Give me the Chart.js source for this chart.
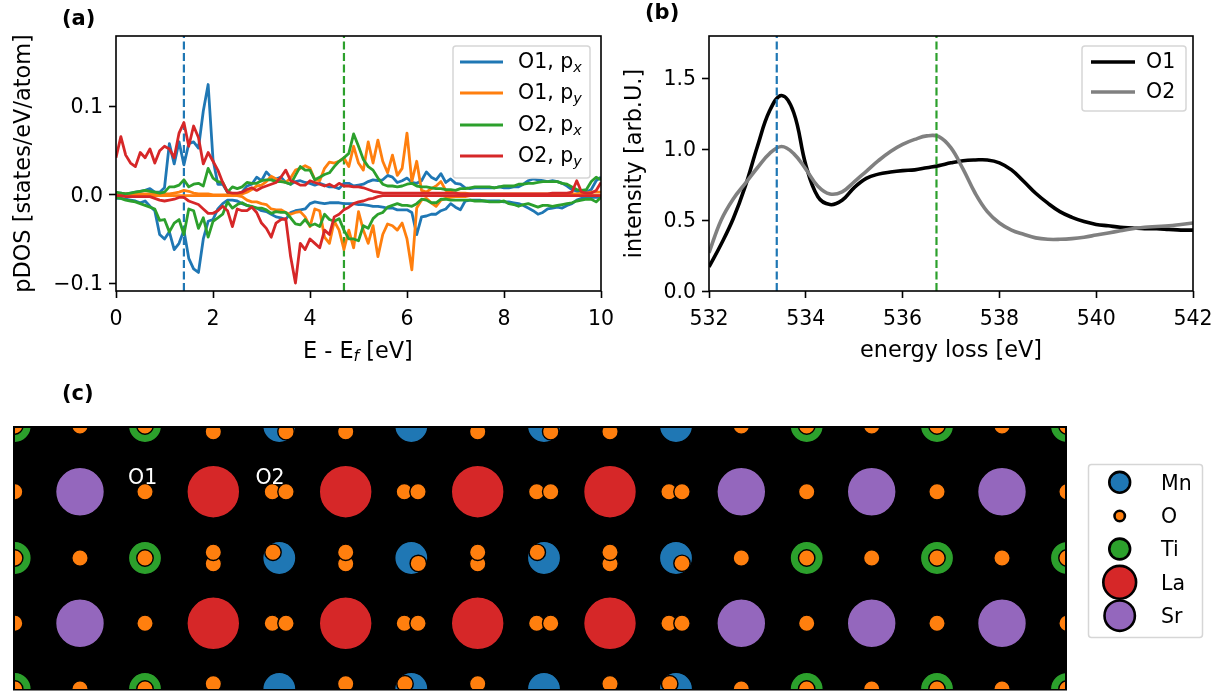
<!DOCTYPE html>
<html lang="en">
<head>
  <meta charset="UTF-8">
  <title>pDOS and EELS of O sites</title>
  <script src="https://cdn.jsdelivr.net/npm/chart.js"></script>
  <style>
    body { background: #fff; margin: 0; }
    canvas { position: absolute; }
    #pdosChart { left: 0; top: 0; }
    #eelsChart { left: 620px; top: 0; }
    #structChart { left: 0; top: 380px; }
  </style>
</head>
<body>
  <canvas id="pdosChart" width="640" height="380"></canvas>
  <canvas id="eelsChart" width="605" height="380"></canvas>
  <canvas id="structChart" width="1225" height="311"></canvas>

  <script>
    // (a) pDOS, energies in eV, series in 10^-3 states/eV/atom
    const energy = [
      0,.1,.2,.3,.4,.5,.6,.7,.8,.9, 1,1.1,1.2,1.3,1.4,1.5,1.6,1.7,1.8,1.9,
      2,2.1,2.2,2.3,2.4,2.5,2.6,2.7,2.8,2.9, 3,3.1,3.2,3.3,3.4,3.5,3.6,3.7,3.8,3.9,
      4,4.1,4.2,4.3,4.4,4.5,4.6,4.7,4.8,4.9, 5,5.1,5.2,5.3,5.4,5.5,5.6,5.7,5.8,5.9,
      6,6.1,6.2,6.3,6.4,6.5,6.6,6.7,6.8,6.9, 7,7.1,7.2,7.3,7.4,7.5,7.6,7.7,7.8,7.9,
      8,8.1,8.2,8.3,8.4,8.5,8.6,8.7,8.8,8.9, 9,9.1,9.2,9.3,9.4,9.5,9.6,9.7,9.8,9.9, 10];
    const o1PxUp = [
      2,2,1,2,3,4,5,7,3,3, 8,58,35,60,34,58,60,53,95,125,
      40,12,12,3,1,1,3,10,12,20, 16,26,20,18,20,14,12,15,16,14,
      13,11,13,11,9,9,7,13,13,10, 11,12,15,17,16,17,22,20,14,16,
      19,14,13,16,26,20,17,24,14,18, 13,12,8,7,8,8,8,8,8,9,
      8,8,9,9,12,16,18,17,16,15, 16,15,13,10,6,4,3,3,6,16, 20];
    const o1PyUp = [
      1,1,1,1,1,1,1,1,1,1, 1,1,2,3,5,4,2,1,1,1,
      0,0,0,0,0,0,1,3,6,10, 11,15,21,18,16,14,19,28,30,33,
      30,17,16,30,37,36,38,42,32,55, 36,28,60,36,62,38,25,45,22,30,
      70,15,38,5,3,7,10,15,5,3, 2,2,2,1,1,1,1,1,1,1,
      1,1,1,1,1,1,1,1,1,1, 1,1,1,1,1,1,2,2,3,3, 3];
    const o2PxUp = [
      3,2,1,2,3,4,5,4,3,2, 3,9,9,11,17,9,12,13,10,30,
      19,15,14,3,9,7,9,14,13,13, 16,17,17,15,15,14,12,22,32,28,
      28,17,20,23,25,32,38,42,47,69, 55,40,32,28,19,12,10,10,9,10,
      12,13,10,9,9,8,7,7,6,6, 5,7,7,8,9,9,9,9,8,9,
      10,10,10,12,12,13,13,14,15,15, 15,15,13,12,9,6,5,6,15,20, 17];
    const o2PyUp = [
      42,66,45,36,32,48,42,52,36,50, 55,52,42,70,82,55,78,65,35,48,
      38,28,14,3,2,2,3,6,8,5, 8,10,12,14,20,28,16,14,11,11,
      16,14,12,10,12,9,13,10,10,9, 9,8,6,4,3,2,2,2,2,2,
      2,2,2,2,2,2,2,2,2,2, 2,1,1,1,1,1,1,1,1,1,
      1,1,1,1,1,1,1,1,1,1, 2,2,2,2,3,16,3,2,2,5, 14];
    const o1PxDown = [
      -4,-4,-5,-6,-7,-9,-7,-13,-18,-45, -50,-42,-62,-55,-40,-72,-84,-88,-50,-30,
      -28,-16,-10,-6,-6,-7,-10,-12,-14,-15, -18,-19,-22,-25,-26,-28,-20,-18,-17,-16,
      -10,-8,-9,-10,-9,-9,-9,-10,-10,-10, -11,-11,-12,-13,-13,-14,-15,-15,-17,-17,
      -17,-20,-45,-25,-24,-22,-22,-18,-16,-10, -14,-17,-7,-6,-6,-6,-7,-7,-7,-7,
      -8,-8,-9,-10,-12,-15,-18,-22,-20,-16, -15,-14,-15,-12,-10,-6,-4,-3,-3,-3, -3];
    const o1PyDown = [
      -1,-1,-1,-1,-1,-1,-1,-1,-1,-1, -1,-1,-1,-1,-1,-1,-1,-1,-1,-1,
      -1,-1,-1,-1,-1,-1,-2,-6,-8,-8, -10,-11,-16,-17,-17,-20,-22,-20,-19,-25,
      -36,-16,-18,-48,-55,-30,-40,-62,-40,-60, -19,-40,-55,-35,-70,-45,-33,-35,-40,-32,
      -50,-85,-15,-6,-4,-9,-13,-6,-4,-3, -2,-2,-2,-1,-1,-1,-1,-1,-1,-1,
      -1,-1,-1,-1,-1,-1,-1,-1,-1,-1, -1,-1,-1,-1,-1,-1,-1,-1,-1,-1, -1];
    const o2PxDown = [
      -3,-4,-6,-7,-8,-10,-12,-14,-16,-29, -28,-42,-32,-28,-45,-16,-18,-38,-26,-48,
      -30,-26,-22,-8,-15,-11,-9,-12,-13,-15, -15,-17,-21,-19,-20,-20,-26,-33,-34,-28,
      -35,-33,-36,-22,-28,-30,-27,-40,-50,-50, -52,-35,-38,-27,-22,-20,-14,-12,-10,-12,
      -12,-13,-10,-5,-6,-9,-9,-5,-5,-6, -6,-6,-6,-6,-7,-7,-7,-8,-8,-8,
      -7,-10,-11,-13,-11,-10,-12,-14,-12,-12, -13,-12,-11,-10,-9,-7,-6,-5,-5,-8, -3];
    const o2PyDown = [
      -1,-1,-2,-2,-2,-2,-2,-2,-4,-6, -7,-6,-5,-3,-3,-7,-9,-11,-16,-21,
      -21,-18,-13,-18,-36,-16,-18,-18,-14,-20, -32,-38,-48,-32,-28,-27,-70,-100,-55,-62,
      -50,-55,-60,-40,-45,-25,-22,-17,-14,-10, -8,-7,-5,-4,-2,-1,-1,-1,-1,-1,
      -1,-1,-1,-1,-1,-1,-1,-1,-1,-1, -1,-1,-1,-1,-1,-1,-1,-1,-1,-1,
      -1,-1,-1,-1,-1,-1,-1,-1,-1,-1, -1,-1,-1,-1,-1,-1,-1,-1,-1,-1, -1];
    const pdosMarkers = [1.4, 4.7];
    const pdosXTicks = [0, 2, 4, 6, 8, 10];
    const pdosYTicks = [-0.1, 0, 0.1];
    const pdosYLabels = ['\u22120.1', '0.0', '0.1'];

    // (b) EELS
    const loss = [
      532,532.25,532.5,532.75,533,533.25,533.5,533.75,534,534.25,534.5,534.75,
      535,535.25,535.5,535.75,536,536.25,536.5,536.75,537,537.25,537.5,537.75,
      538,538.25,538.5,538.75,539,539.25,539.5,539.75,540,540.25,540.5,540.75,
      541,541.25,541.5,541.75,542];
    const eelsO1 = [
      .17,.33,.51,.74,1.02,1.27,1.38,1.26,.89,.665,.61,.64,
      .73,.795,.825,.84,.85,.855,.87,.885,.905,.92,.925,.925,
      .905,.855,.775,.69,.62,.56,.52,.49,.47,.46,.45,.445,
      .44,.44,.435,.43,.43];
    const eelsO2 = [
      .27,.5,.65,.76,.87,.97,1.02,.97,.86,.74,.685,.7,
      .77,.845,.92,.985,1.035,1.07,1.095,1.09,1.01,.86,.69,.56,
      .48,.43,.4,.375,.365,.365,.37,.38,.395,.41,.425,.44,
      .45,.455,.46,.47,.48];
    const eelsMarkers = [533.4, 536.7];
    const eelsXTicks = [532, 534, 536, 538, 540, 542];
    const eelsYTicks = [0, 0.5, 1, 1.5];
    const eelsYLabels = ['0.0', '0.5', '1.0', '1.5'];

    // (c) structure projection, atom columns in plot units
    const bRows = [263, 131, 0];
    const aRows = [197.3, 65.7];
    const tiColumns = [-0.3, 130, 791.7, 922, 1052];
    const mnColumns = [264.3, 396.3, 529, 661];
    const srColumns = [65, 726.3, 856.7, 987];
    const laColumns = [198.3, 330.7, 462.7, 595];
    const oSites = [
      // top row
      [-0.3,263],[65,263],[130,263],[726.3,263],[791.7,263],[856.7,263],[922,263],[987,263],[1052,263],
      [198.3,257.3],[330.7,257.3],[462.7,257.3],[595,257.3],[271,257.3],[535.7,257.3],
      // upper A row
      [-0.3,197.3],[130,197.3],[257.3,197.3],[271,197.3],[389.3,197.3],[403,197.3],
      [521.7,197.3],[535.7,197.3],[654,197.3],[667,197.3],[791.7,197.3],[922,197.3],[1052,197.3],
      // middle B row
      [-0.3,131],[65,131],[130,131],[726.3,131],[791.7,131],[856.7,131],[922,131],[987,131],[1052,131],
      [198.3,125.3],[198.3,136.7],[330.7,125.3],[330.7,136.7],[462.7,125.3],[462.7,136.7],[595,125.3],[595,136.7],
      [258,136.7],[403.3,125.6],[522.3,136.7],[667,125.7],
      // lower A row
      [-0.3,65.7],[130,65.7],[257.3,65.7],[271,65.7],[389.3,65.7],[403,65.7],
      [521.7,65.7],[535.7,65.7],[654,65.7],[667,65.7],[791.7,65.7],[922,65.7],[1052,65.7],
      // bottom row
      [-0.3,0],[65,0],[130,0],[726.3,0],[791.7,0],[856.7,0],[922,0],[987,0],[1052,0],
      [198.3,5.3],[330.7,5.3],[462.7,5.3],[595,5.3],[390,5.3],[654.7,5.3]
    ];
    const siteLabels = ['O1', 'O2'];
    const siteLabelX = [127.7, 255];
    const siteLabelY = [210.5, 210.5];

    const tabBlue = '#1f77b4', tabOrange = '#ff7f0e', tabGreen = '#2ca02c', tabRed = '#d62728', tabPurple = '#9467bd';
    const fontName = '"DejaVu Sans"';
    const tickSize = 20.5;
    const titleSize = 22.4;
    Chart.defaults.font.family = fontName;
    Chart.defaults.font.size = tickSize;
    Chart.defaults.color = '#000';
    Chart.defaults.animation = false;

    // text with an italic subscript, draws at left/middle
    function richText(ctx, x, y, text, sub, tail, size) {
      const px = size || tickSize;
      ctx.fillStyle = '#000';
      ctx.textAlign = 'left';
      ctx.textBaseline = 'middle';
      ctx.font = px + 'px ' + fontName;
      ctx.fillText(text, x, y);
      let w = ctx.measureText(text).width;
      if (sub) {
        ctx.font = 'italic ' + (px * 0.7) + 'px ' + fontName;
        ctx.fillText(sub, x + w, y + 5);
        w += ctx.measureText(sub).width;
      }
      if (tail) {
        ctx.font = px + 'px ' + fontName;
        ctx.fillText(tail, x + w, y);
      }
    }

    function legendFrame(ctx, b) {
      ctx.beginPath();
      ctx.roundRect(b.x, b.y, b.w, b.h, 3);
      ctx.fillStyle = 'rgba(255,255,255,0.8)';
      ctx.fill();
      ctx.strokeStyle = '#d6d6d6';
      ctx.lineWidth = 1.5;
      ctx.stroke();
    }

    const decorPlugin = {
      id: 'decor',
      beforeDatasetsDraw(chart, args, o) {
        if (o.background) {
          const a = chart.chartArea;
          chart.ctx.fillStyle = o.background;
          chart.ctx.fillRect(a.left - 2, a.top - 2, a.width + 4, a.height + 3.5);
        }
      },
      afterDatasetsDraw(chart, args, o) {
        const ctx = chart.ctx, a = chart.chartArea;
        ctx.save();
        if (o.frame) {
          ctx.strokeStyle = '#000';
          ctx.lineWidth = 1.6;
          ctx.strokeRect(a.left, a.top, a.width, a.height);
        }
        if (o.siteText) {
          ctx.fillStyle = '#fff';
          ctx.font = tickSize + 'px ' + fontName;
          ctx.textAlign = 'center';
          ctx.textBaseline = 'middle';
          siteLabels.forEach((t, i) => {
            ctx.fillText(t, chart.scales.x.getPixelForValue(siteLabelX[i]), chart.scales.y.getPixelForValue(siteLabelY[i]));
          });
        }
        ctx.fillStyle = '#000';
        ctx.font = 'bold 21px ' + fontName;
        ctx.textAlign = 'left';
        ctx.textBaseline = 'middle';
        ctx.fillText(o.panel.text, o.panel.x, o.panel.y);
        if (o.xLabel) richText(ctx, o.xLabel.x, o.xLabel.y, o.xLabel.text, o.xLabel.sub, o.xLabel.tail, titleSize);
        if (o.lineLegend) {
          const l = o.lineLegend;
          legendFrame(ctx, l.box);
          l.items.forEach((it, i) => {
            ctx.strokeStyle = it.color;
            ctx.lineWidth = l.lineWidth;
            ctx.beginPath();
            ctx.moveTo(l.lineX[0], l.rows[i]);
            ctx.lineTo(l.lineX[1], l.rows[i]);
            ctx.stroke();
            richText(ctx, l.textX, l.rows[i] + 1, it.text, it.sub);
          });
        }
        if (o.atomLegend) {
          const l = o.atomLegend;
          legendFrame(ctx, l.box);
          l.items.forEach((it, i) => {
            ctx.beginPath();
            ctx.arc(l.markerX, l.rows[i], it.r, 0, Math.PI * 2);
            ctx.fillStyle = it.color;
            ctx.fill();
            ctx.strokeStyle = '#000';
            ctx.lineWidth = 2.6;
            ctx.stroke();
            richText(ctx, l.textX, l.rows[i] + 2, it.text);
          });
        }
        ctx.restore();
      }
    };

    const series = (label, xs, ys, color, scale) => ({
      label,
      data: xs.map((x, i) => ({ x, y: ys[i] * scale })),
      borderColor: color,
      borderWidth: 2.8,
      borderJoinStyle: 'round',
      pointRadius: 0,
      tension: 0
    });

    const dashed = (x, yMin, yMax, color) => ({
      label: 'marker',
      data: [{ x, y: yMin }, { x, y: yMax }],
      borderColor: color,
      borderWidth: 2.2,
      borderDash: [8, 3.5],
      pointRadius: 0
    });

    // later in the list = drawn on top
    const stacked = list => list.map((d, i) => ({ ...d, order: -i }));

    const axis = (min, max, ticks, labels, box, title, horizontal) => ({
      type: 'linear',
      min,
      max,
      afterBuildTicks: s => { s.ticks = ticks.map(value => ({ value })); },
      afterFit: s => {
        if (s.isHorizontal()) s.height = box;
        else s.width = box;
      },
      ticks: {
        autoSkip: false,
        maxRotation: 0,
        padding: horizontal ? 9 : 6,
        labelOffset: horizontal ? 0 : 1.5,
        color: '#000',
        callback: (v, i) => labels ? labels[i] : String(v)
      },
      grid: { drawOnChartArea: false, tickLength: 7, tickColor: '#000', tickWidth: 1.6 },
      border: { display: false },
      title
    });

    const yMinA = -0.109, yMaxA = 0.18;
    new Chart(document.getElementById('pdosChart').getContext('2d'), {
      type: 'line',
      plugins: [decorPlugin],
      data: {
        datasets: stacked([
          dashed(pdosMarkers[0], yMinA, yMaxA, tabBlue),
          dashed(pdosMarkers[1], yMinA, yMaxA, tabGreen),
          series('O1, px', energy, o1PxUp, tabBlue, 1e-3),
          series('O1, px down', energy, o1PxDown, tabBlue, 1e-3),
          series('O1, py', energy, o1PyUp, tabOrange, 1e-3),
          series('O1, py down', energy, o1PyDown, tabOrange, 1e-3),
          series('O2, px', energy, o2PxUp, tabGreen, 1e-3),
          series('O2, px down', energy, o2PxDown, tabGreen, 1e-3),
          series('O2, py', energy, o2PyUp, tabRed, 1e-3),
          series('O2, py down', energy, o2PyDown, tabRed, 1e-3)
        ])
      },
      options: {
        responsive: false,
        layout: { autoPadding: false, padding: { top: 36, right: 39, left: 0, bottom: 0 } },
        scales: {
          x: axis(0, 10, pdosXTicks, null, 89, { display: false }, true),
          y: axis(yMinA, yMaxA, pdosYTicks, pdosYLabels, 116, {
            display: true, text: 'pDOS [states/eV/atom]', color: '#000', font: { size: titleSize }, padding: { top: 11, bottom: 0 }
          })
        },
        plugins: {
          legend: { display: false },
          tooltip: { enabled: false },
          decor: {
            frame: true,
            panel: { text: '(a)', x: 62, y: 20 },
            xLabel: { x: 303, y: 352, text: 'E - E', sub: 'f', tail: ' [eV]' },
            lineLegend: {
              box: { x: 453, y: 46, w: 137, h: 132 },
              lineX: [460, 503],
              textX: 518,
              lineWidth: 2.8,
              rows: [62, 93, 125, 156],
              items: [
                { text: 'O1, p', sub: 'x', color: tabBlue },
                { text: 'O1, p', sub: 'y', color: tabOrange },
                { text: 'O2, p', sub: 'x', color: tabGreen },
                { text: 'O2, p', sub: 'y', color: tabRed }
              ]
            }
          }
        }
      }
    });

    new Chart(document.getElementById('eelsChart').getContext('2d'), {
      type: 'line',
      plugins: [decorPlugin],
      data: {
        datasets: stacked([
          series('O1', loss, eelsO1, '#000', 1),
          series('O2', loss, eelsO2, '#808080', 1),
          dashed(eelsMarkers[0], 0, 1.8, tabBlue),
          dashed(eelsMarkers[1], 0, 1.8, tabGreen)
        ]).map(d => d.label === 'marker' ? d : { ...d, borderWidth: 3.6, tension: 0.4 })
      },
      options: {
        responsive: false,
        layout: { autoPadding: false, padding: { top: 36, right: 32, left: 0, bottom: 0 } },
        scales: {
          x: axis(532, 542, eelsXTicks, null, 89, {
            display: true, text: 'energy loss [eV]', color: '#000', font: { size: titleSize }, padding: { top: 0, bottom: 15 }
          }, true),
          y: axis(0, 1.8, eelsYTicks, eelsYLabels, 89, {
            display: true, text: 'intensity [arb.U.]', color: '#000', font: { size: titleSize }, padding: { top: 2, bottom: 0 }
          })
        },
        plugins: {
          legend: { display: false },
          tooltip: { enabled: false },
          decor: {
            frame: true,
            panel: { text: '(b)', x: 25, y: 14 },
            lineLegend: {
              box: { x: 462, y: 46, w: 104, h: 65 },
              lineX: [471, 515],
              textX: 526,
              lineWidth: 3.6,
              rows: [62, 92],
              items: [
                { text: 'O1', color: '#000' },
                { text: 'O2', color: '#808080' }
              ]
            }
          }
        }
      }
    });

    const atoms = (label, sites, color, radius) => ({
      label,
      data: sites.map(([x, y]) => ({ x, y })),
      backgroundColor: color,
      borderColor: '#000',
      borderWidth: 1.4,
      pointRadius: radius,
      showLine: false
    });
    const grid = (cols, rows) => rows.flatMap(y => cols.map(x => [x, y]));

    new Chart(document.getElementById('structChart').getContext('2d'), {
      type: 'scatter',
      plugins: [decorPlugin],
      data: {
        datasets: stacked([
          atoms('Mn', grid(mnColumns, bRows), tabBlue, 16.6),
          atoms('Ti', grid(tiColumns, bRows), tabGreen, 16.6),
          atoms('La', grid(laColumns, aRows), tabRed, 26.4),
          atoms('Sr', grid(srColumns, aRows), tabPurple, 24.4),
          atoms('O', oSites, tabOrange, 8.2)
        ])
      },
      options: {
        responsive: false,
        layout: { autoPadding: false, padding: { top: 48, right: 160, left: 15, bottom: 2 } },
        scales: {
          x: { type: 'linear', min: 0, max: 1050, display: false },
          y: { type: 'linear', min: 0, max: 261, display: false }
        },
        plugins: {
          legend: { display: false },
          tooltip: { enabled: false },
          decor: {
            background: '#000',
            siteText: true,
            panel: { text: '(c)', x: 62, y: 15 },
            atomLegend: {
              box: { x: 1088.5, y: 84.5, w: 114, h: 173 },
              markerX: 1119.7,
              textX: 1161,
              rows: [102.3, 136, 169, 202.3, 235.7],
              items: [
                { text: 'Mn', color: tabBlue, r: 10.4 },
                { text: 'O', color: tabOrange, r: 5.2 },
                { text: 'Ti', color: tabGreen, r: 10.4 },
                { text: 'La', color: tabRed, r: 16.4 },
                { text: 'Sr', color: tabPurple, r: 15.2 }
              ]
            }
          }
        }
      }
    });
  </script>
</body>
</html>
